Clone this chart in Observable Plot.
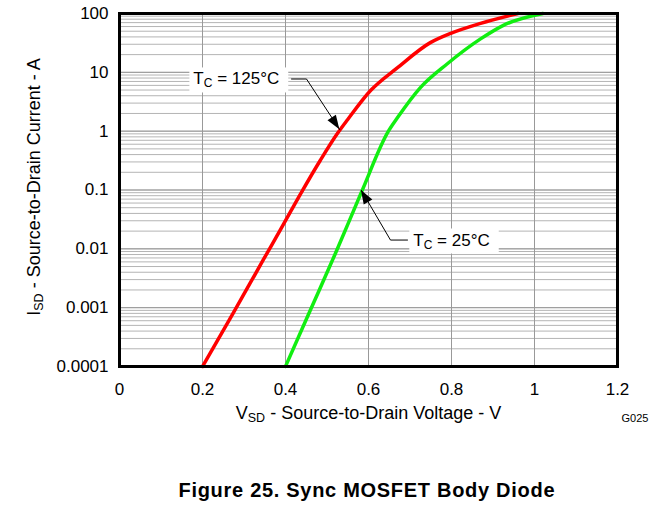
<!DOCTYPE html>
<html><head><meta charset="utf-8">
<script src="https://cdn.jsdelivr.net/npm/d3@7"></script>
<script src="https://cdn.jsdelivr.net/npm/@observablehq/plot@0.6"></script>
<style>
html,body{margin:0;padding:0;background:#fff;}
#chart svg{display:block;}
</style></head><body>
<div id="chart"></div>
<script>
// ---- data ----
const xTicks = [0, 0.2, 0.4, 0.6, 0.8, 1, 1.2];
const xTickLabels = ["0", "0.2", "0.4", "0.6", "0.8", "1", "1.2"];
const yTicks = [0.0001, 0.001, 0.01, 0.1, 1, 10, 100];
const yTickLabels = ["0.0001", "0.001", "0.01", "0.1", "1", "10", "100"];

// TC = 125°C
const vsd125 = [0.2, 0.275, 0.347, 0.395, 0.436, 0.484, 0.525, 0.55, 0.605, 0.67, 0.749, 0.798, 0.87, 0.96];
const isd125 = [0.0001, 0.00083, 0.0066, 0.026, 0.085, 0.32, 0.91, 1.58, 4.9, 12, 32, 46, 68, 100];
// TC = 25°C
const vsd25 = [0.4, 0.46, 0.522, 0.583, 0.648, 0.67, 0.725, 0.79, 0.87, 0.925, 1.02];
const isd25 = [0.0001, 0.00091, 0.0089, 0.092, 1.0, 1.7, 5.5, 14, 37, 63, 100];

// annotations (data coordinates)
const annoBase = ["T", "T"];
const annoSub = ["C", "C"];
const annoRest = [" = 125°C", " = 25°C"];
const annoX = [0.178, 0.708];
const annoY = [7.7, 0.0141];
const leaderX = [[0.4145, 0.4506, 0.531], [0.694, 0.653, 0.583]];
const leaderY = [[7.7, 7.7, 1.055], [0.0141, 0.0141, 0.098]];

const xTitle = ["V", "SD", " - Source-to-Drain Voltage - V"];
const yTitle = ["I", "SD", " - Source-to-Drain Current - A"];
const caption = "Figure 25. Sync MOSFET Body Diode";
const figId = "G025";

// ---- build tables ----
const curves = [
  ...vsd125.map((v, i) => ({v, i: isd125[i], s: "125"})),
  ...vsd25.map((v, i) => ({v, i: isd25[i], s: "25"}))
];
const annos = annoBase.map((b, k) => ({x: annoX[k], y: annoY[k], t: b + annoSub[k] + annoRest[k]}));
const leaders = leaderX.flatMap((xs, k) => xs.map((x, j) => ({x, y: leaderY[k][j], k})));
const minorTicks = d3.scaleLog().domain([yTicks[0], yTicks[yTicks.length - 1]]).ticks();

const FONT = "'Liberation Sans', Arial, Helvetica, sans-serif";

const chart = Plot.plot({
  width: 669,
  height: 508,
  marginLeft: 119,
  marginRight: 52,
  marginTop: 13,
  marginBottom: 142,
  style: {fontFamily: FONT, fontSize: "17px", color: "#000", background: "#fff"},
  x: {domain: [0, 1.2], ticks: xTicks, tickFormat: d => xTickLabels[xTicks.indexOf(d)] ?? "", tickSize: 0, tickPadding: 16, label: null},
  y: {type: "log", domain: [0.0001, 100], ticks: yTicks, tickFormat: d => yTickLabels[yTicks.indexOf(d)] ?? "", tickSize: 0, tickPadding: 11, label: null},
  marks: [
    Plot.ruleY(minorTicks, {stroke: "#b4b4b4", strokeWidth: 1}),
    Plot.ruleY(yTicks, {stroke: "#999", strokeWidth: 1}),
    Plot.ruleX(xTicks, {stroke: "#999", strokeWidth: 1}),
    Plot.line(curves.filter(d => d.s === "125"), {x: "v", y: "i", stroke: "#ff0000", strokeWidth: 3.5, curve: "monotone-x"}),
    Plot.line(curves.filter(d => d.s === "25"), {x: "v", y: "i", stroke: "#11ee11", strokeWidth: 3.5, curve: "monotone-x"}),
    Plot.line(leaders, {x: "x", y: "y", z: "k", stroke: "#000", strokeWidth: 1}),
    // text marks (order matters for post-processing)
    Plot.text(annos, {x: "x", y: "y", text: "t", textAnchor: "start", lineAnchor: "middle", fontSize: 17, fill: "#000"}),
    Plot.text([xTitle.join("")], {frameAnchor: "bottom", textAnchor: "middle", lineAnchor: "middle", dy: 47, fontSize: 18}),
    Plot.text([yTitle.join("")], {frameAnchor: "left", textAnchor: "middle", lineAnchor: "middle", rotate: -90, dx: -85, dy: -3, fontSize: 18}),
    Plot.text([caption], {frameAnchor: "bottom", textAnchor: "middle", lineAnchor: "middle", dy: 123.6, dx: -2, fontSize: 20, fontWeight: "bold"}),
    Plot.text([figId], {frameAnchor: "bottom-right", textAnchor: "start", lineAnchor: "middle", dx: 4, dy: 52, fontSize: 11}),
    Plot.frame({stroke: "#000", strokeWidth: 3})
  ]
});
document.getElementById("chart").appendChild(chart);

// ---- post-processing: subscripts, label boxes, arrowheads ----
const svg = d3.select(chart);
function subscriptify(el, base, sub, rest, size, shift) {
  const t = d3.select(el);
  t.text(null);
  t.append("tspan").text(base);
  t.append("tspan").attr("font-size", size).attr("dy", shift).text(sub);
  t.append("tspan").attr("dy", -shift).text(rest);
}
const textGroups = svg.selectAll('g[aria-label="text"]').nodes();
const [gAnno, gX, gY, gCap] = textGroups;

d3.select(gAnno).selectAll("text").each(function(_, k) {
  subscriptify(this, annoBase[k], annoSub[k], annoRest[k], 12, 3);
  const bb = this.getBBox();
  const r = document.createElementNS("http://www.w3.org/2000/svg", "rect");
  r.setAttribute("x", bb.x - 4);
  r.setAttribute("y", bb.y - 2);
  r.setAttribute("width", bb.width + 13);
  r.setAttribute("height", bb.height + 4);
  r.setAttribute("fill", "#fff");
  const tr = this.getAttribute("transform");
  if (tr) r.setAttribute("transform", tr);
  this.parentNode.insertBefore(r, this);
});
d3.select(gX).selectAll("text").each(function() {
  subscriptify(this, xTitle[0], xTitle[1], xTitle[2], 12.5, 3);
});
d3.select(gY).selectAll("text").each(function() {
  subscriptify(this, yTitle[0], yTitle[1], yTitle[2], 12.5, 3);
});
d3.select(gCap).selectAll("text")
  .attr("textLength", 376).attr("lengthAdjust", "spacing");

const sxo = chart.scale("x"), syo = chart.scale("y");
const X = d3.scaleLinear(sxo.domain, sxo.range);
const Y = d3.scaleLog(syo.domain, syo.range);
const heads = svg.append("g").attr("aria-label", "arrowheads");
leaderX.forEach((xs, k) => {
  const n = xs.length;
  const tx = X(xs[n - 1]), ty = Y(leaderY[k][n - 1]);
  const px = X(xs[n - 2]), py = Y(leaderY[k][n - 2]);
  const L = Math.hypot(tx - px, ty - py);
  const ux = (tx - px) / L, uy = (ty - py) / L;
  const bx = tx - 14 * ux, by = ty - 14 * uy;
  const nx = -uy, ny = ux;
  heads.append("polygon")
    .attr("points", [[tx, ty], [bx + 5 * nx, by + 5 * ny], [bx - 5 * nx, by - 5 * ny]].map(p => p.join(",")).join(" "))
    .attr("fill", "#000");
});
</script>
</body></html>
